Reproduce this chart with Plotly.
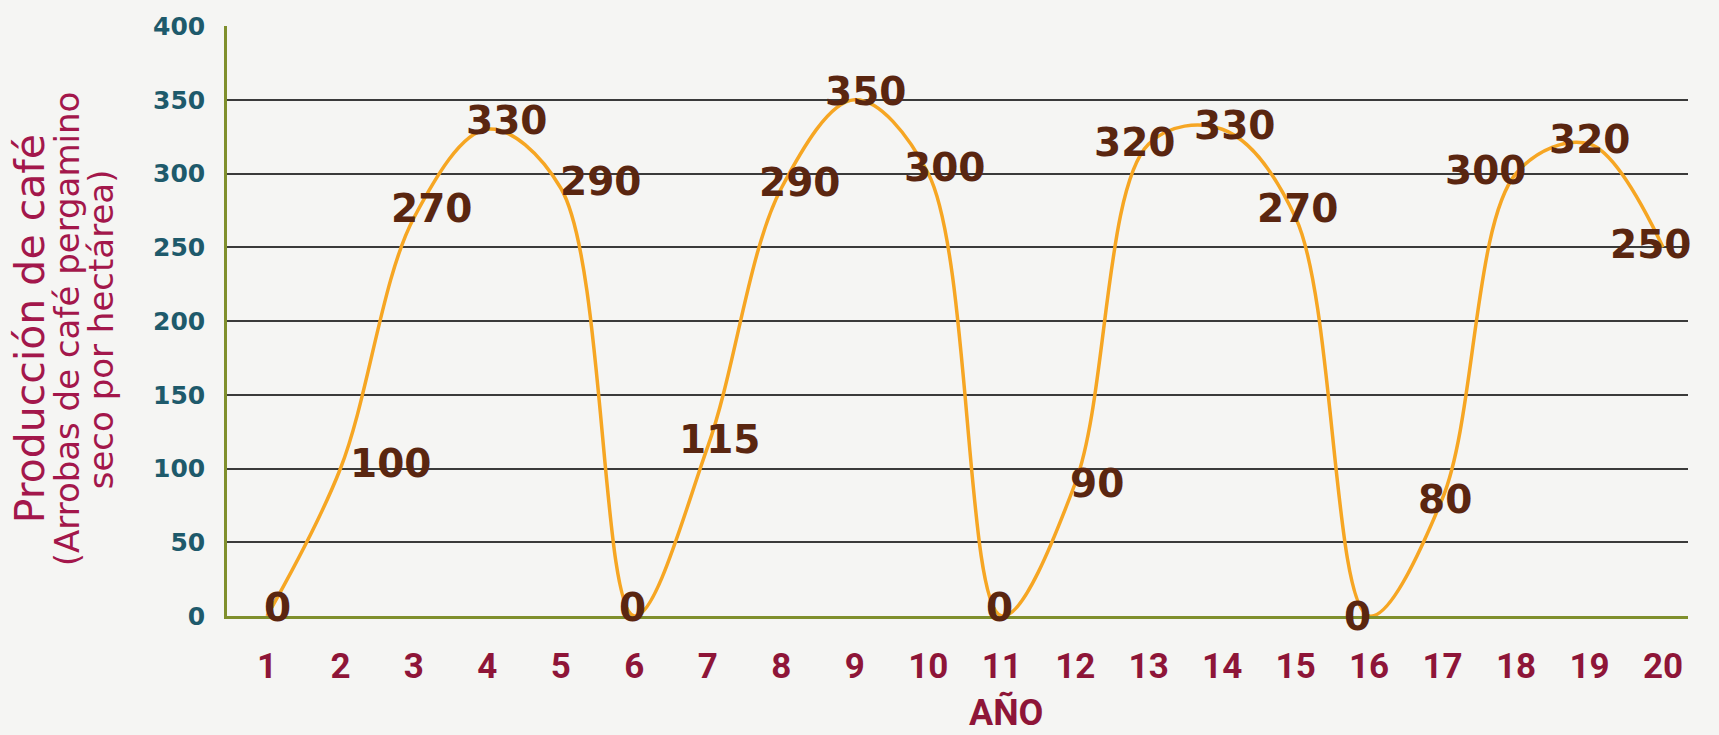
import plotly.graph_objects as go

# Producción de café por año (arrobas de café pergamino seco por hectárea)
years = list(range(1, 21))
production = [0, 100, 270, 330, 290, 0, 115, 290, 350, 300,
              0, 90, 320, 330, 270, 0, 80, 300, 320, 250]
y_ticks = [0, 50, 100, 150, 200, 250, 300, 350, 400]

# pixel nudges for each value label so it sits clear of the curve
label_dx = [11, 50, 18, 19, 40, -2, 12, 18, 11, 16, -2, 22, -14, 12, 2, -12, 2, -31, 0, -13]
label_dy = [9, 5, 9, 9, 7, 9, 7, 6, 8, 6, 9, 0, 2, 4, 9, 0, -1, 3, 5, 3]

BG = "#F5F5F3"
LINE = "#F6A623"
LABEL = "#5A2610"
MAROON = "#8E1538"
TITLE = "#A3174B"
TEAL = "#1E5A6B"
OLIVE = "#7F8F2C"
GRID = "#3A3A3A"

fig = go.Figure()
fig.add_trace(go.Scatter(
    x=years, y=production, mode="lines",
    line=dict(color=LINE, width=3.5, shape="spline", smoothing=1.0),
    hoverinfo="x+y", showlegend=False,
))

for x, y, dx, dy in zip(years, production, label_dx, label_dy):
    fig.add_annotation(
        x=x, y=y, text=str(y), showarrow=False,
        xshift=dx, yshift=dy,
        font=dict(family="DejaVu Sans", size=39, color=LABEL, weight="bold"),
    )

# axis title, three separate rotated lines
title_lines = [
    ("Producción de café", 30, 41),
    ("(Arrobas de café pergamino", 67, 34),
    ("seco por hectárea)", 101, 34),
]
for text, xpix, size in title_lines:
    fig.add_annotation(
        x=(xpix - 227) / 1461, y=0.486, xref="paper", yref="paper",
        text=text, textangle=-90, showarrow=False,
        xanchor="center", yanchor="middle",
        font=dict(family="DejaVu Sans", size=size, color=TITLE),
    )

fig.add_annotation(
    x=0.533, y=-0.2027, xref="paper", yref="paper", text="AÑO",
    showarrow=False, xanchor="center", yanchor="bottom",
    font=dict(family="Roboto", size=36, color=MAROON, weight="bold"),
)

fig.update_xaxes(
    range=[0.456, 20.34], tickvals=years, ticktext=[str(v) for v in years],
    showgrid=False, zeroline=False, showline=True, linecolor=OLIVE, linewidth=2.5,
    ticks="", ticklabelstandoff=17,
    tickfont=dict(family="Roboto", size=35, color=MAROON, weight="bold"),
)
fig.update_yaxes(
    range=[0, 400], tickvals=y_ticks,
    showgrid=True, gridcolor=GRID, gridwidth=2,
    zeroline=False, showline=True, linecolor=OLIVE, linewidth=2.5,
    ticks="", ticklabelstandoff=14,
    tickfont=dict(family="DejaVu Sans", size=25, color=TEAL, weight="bold"),
)

fig.update_layout(
    width=1719, height=735,
    margin=dict(l=227, r=31, t=24, b=119),
    paper_bgcolor=BG, plot_bgcolor=BG,
)

fig.write_html("out.html")
